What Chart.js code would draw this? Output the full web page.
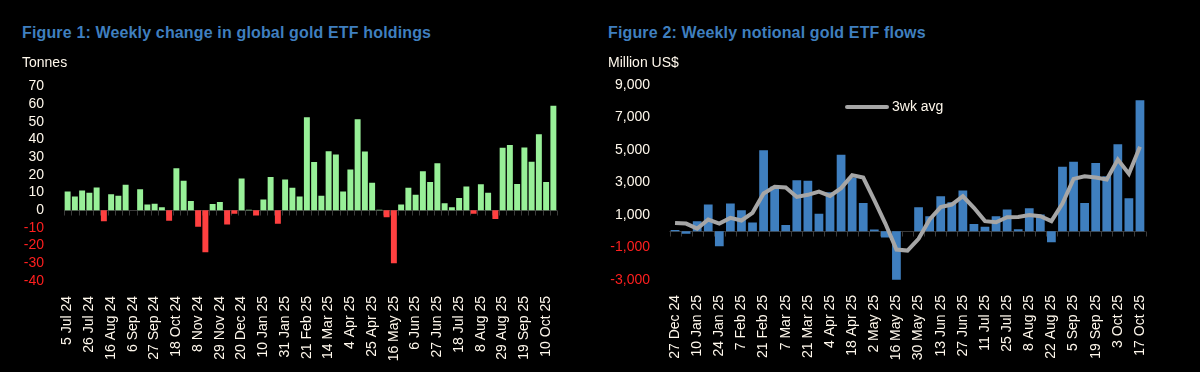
<!DOCTYPE html>
<html>
<head>
<meta charset="utf-8">
<script src="https://cdn.jsdelivr.net/npm/chart.js@4/dist/chart.umd.min.js"></script>
<style>
  body { margin: 0; background: #000; width: 1200px; height: 372px; overflow: hidden; position: relative; font-family: "Liberation Sans", Arial, sans-serif; }
  .title { position: absolute; color: #3f7fbf; font-weight: bold; font-size: 16px; line-height: 16px; letter-spacing: 0.15px; white-space: nowrap; }
  .unit { position: absolute; color: #fff8ec; font-size: 14px; line-height: 14px; white-space: nowrap; }
  canvas { position: absolute; }
  #legend2 { position: absolute; left: 845px; top: 99px; color: #fff8ec; font-size: 14px; line-height: 14px; white-space: nowrap; }
  #legend2 span.swatch { display: inline-block; width: 44px; height: 4px; border-radius: 2px; background: #a6a6a6; vertical-align: middle; margin-right: 3px; }
</style>
</head>
<body>
<canvas id="holdings" width="580" height="306" style="left:0;top:66px"></canvas>
<canvas id="flows" width="600" height="307" style="left:600px;top:65px"></canvas>
<div class="title" style="left:22px;top:25px">Figure 1: Weekly change in global gold ETF holdings</div>
<div class="unit" style="left:22px;top:55px">Tonnes</div>
<div class="title" style="left:608px;top:25px">Figure 2: Weekly notional gold ETF flows</div>
<div class="unit" style="left:608px;top:55px">Million US$</div>
<div id="legend2"><span class="swatch"></span>3wk avg</div>
<script>
"use strict";

const weeks = [
  '5 Jul 24','12 Jul 24','19 Jul 24','26 Jul 24','2 Aug 24','9 Aug 24','16 Aug 24','23 Aug 24','30 Aug 24',
  '6 Sep 24','13 Sep 24','20 Sep 24','27 Sep 24','4 Oct 24','11 Oct 24','18 Oct 24','25 Oct 24',
  '1 Nov 24','8 Nov 24','15 Nov 24','22 Nov 24','29 Nov 24','6 Dec 24','13 Dec 24','20 Dec 24','27 Dec 24',
  '3 Jan 25','10 Jan 25','17 Jan 25','24 Jan 25','31 Jan 25','7 Feb 25','14 Feb 25','21 Feb 25','28 Feb 25',
  '7 Mar 25','14 Mar 25','21 Mar 25','28 Mar 25','4 Apr 25','11 Apr 25','18 Apr 25','25 Apr 25',
  '2 May 25','9 May 25','16 May 25','23 May 25','30 May 25','6 Jun 25','13 Jun 25','20 Jun 25','27 Jun 25',
  '4 Jul 25','11 Jul 25','18 Jul 25','25 Jul 25','1 Aug 25','8 Aug 25','15 Aug 25','22 Aug 25','29 Aug 25',
  '5 Sep 25','12 Sep 25','19 Sep 25','26 Sep 25','3 Oct 25','10 Oct 25','17 Oct 25'
];

// Figure 1: weekly change, tonnes
const tonnes = [
  10.6, 7.8, 11.2, 9.9, 12.9, -6.2, 9, 8.2, 14.4, 0,
  11.8, 3.2, 3.7, 1.7, -6, 23.7, 16.6, 5.2, -9.3, -23.7,
  3.5, 4.7, -8, -2, 18, 0.3, -3, 6, 18.8, -7.6,
  17.4, 12.7, 7.7, 52.6, 27.2, 8.2, 33.4, 31.5, 10.6, 23,
  51.5, 33.2, 15.5, 0.3, -3.9, -29.9, 3.2, 12.7, 8.8, 22,
  15.9, 26.5, 3.9, 1.7, 6.9, 13.4, -2, 14.7, 9.9, -4.9,
  35.3, 36.9, 14.9, 35.4, 27.4, 42.9, 15.9, 59.1
];

// Figure 2: weekly notional flows, US$ mn, from 27 Dec 24
const flowWeeks = weeks.slice(weeks.indexOf('27 Dec 24'));
const flows = [
  80, -160, 615, 1640, -920, 1700, 1290, 530, 4985, 2750,
  390, 3140, 3100, 1070, 2400, 4700, 3300, 1740, 100, -390,
  -2980, 0, 1480, 920, 2150, 1780, 2500, 450, 270, 920,
  1330, 120, 1420, 1030, -680, 3960, 4270, 1740, 4200, 3380,
  5350, 2030, 8060
];
const avg3wk = [
  510, 470, 160, 720, 470, 820, 660, 1130, 2320, 2730,
  2690, 2110, 2240, 2440, 2170, 2650, 3450, 3300, 1910, 470,
  -1130, -1190, -470, 720, 1480, 1640, 2150, 1440, 620, 550,
  860, 880, 1000, 920, 620, 1700, 3220, 3380, 3300, 3180,
  4410, 3530, 5190
];

const tonnesTicks = {min: -40, max: 70, step: 10};
const flowTicks = {min: -3000, max: 9000, step: 2000};

const CREAM = '#fff8ec';
const RED = '#ff1f1f';
const FONT = {family: '"Liberation Sans", Arial, sans-serif', size: 14};

// zero line with small tick marks between the weeks
const zeroAxis = {
  id: 'zeroAxis',
  beforeDatasetsDraw(chart) {
    const {ctx, chartArea} = chart;
    const x = chart.scales.x, y = chart.scales.y;
    const y0 = Math.round(y.getPixelForValue(0)) + 0.5;
    const w = x.getPixelForValue(1) - x.getPixelForValue(0);
    ctx.save();
    ctx.strokeStyle = '#3a3a3a';
    ctx.lineWidth = 1;
    ctx.beginPath();
    ctx.moveTo(chartArea.left, y0);
    ctx.lineTo(chartArea.right, y0);
    for (let k = 0; k <= x.ticks.length; k++) {
      const px = Math.round(x.getPixelForValue(0) + (k - 0.5) * w) + 0.5;
      ctx.moveTo(px, y0);
      ctx.lineTo(px, y0 + 5);
    }
    ctx.stroke();
    ctx.restore();
  }
};

function yScale(t, width, pad) {
  return {
    min: t.min, max: t.max,
    border: {display: false},
    grid: {display: false},
    ticks: {
      stepSize: t.step,
      autoSkip: false,
      padding: pad,
      font: FONT,
      color: (c) => c.tick.value < 0 ? RED : CREAM,
      callback: (v) => v.toLocaleString('en-US'),
    },
    afterFit: (s) => { s.width = width; },
  };
}

function xScale(every, height) {
  return {
    border: {display: false},
    grid: {display: false},
    ticks: {
      autoSkip: false,
      minRotation: 90,
      maxRotation: 90,
      padding: 7,
      font: FONT,
      color: CREAM,
      callback: function (v, i) { return i % every === 0 ? this.getLabelForValue(v) : ''; },
    },
    afterFit: (s) => { s.height = height; },
  };
}

new Chart(document.getElementById('holdings'), {
  type: 'bar',
  data: {
    labels: weeks,
    datasets: [{
      label: 'Tonnes',
      data: tonnes,
      backgroundColor: tonnes.map(v => v < 0 ? '#ff4040' : '#98f098'),
      barPercentage: 0.82,
      categoryPercentage: 1,
    }],
  },
  options: {
    responsive: false,
    animation: false,
    layout: {padding: {top: 2, right: 23, left: 0, bottom: 0}},
    plugins: {legend: {display: false}, tooltip: {enabled: false}},
    scales: {
      x: xScale(3, 91),
      y: yScale(tonnesTicks, 64, 12),
    },
  },
  plugins: [zeroAxis],
});

new Chart(document.getElementById('flows'), {
  type: 'bar',
  data: {
    labels: flowWeeks,
    datasets: [
      {
        type: 'line',
        label: '3wk avg',
        data: avg3wk,
        borderColor: '#a6a6a6',
        borderWidth: 4,
        pointRadius: 0,
        tension: 0,
        order: 0,
      },
      {
        label: 'Flows',
        data: flows,
        backgroundColor: '#3f7fbf',
        barPercentage: 0.79,
        categoryPercentage: 1,
        order: 1,
      },
    ],
  },
  options: {
    responsive: false,
    animation: false,
    layout: {padding: {top: 2, right: 54.5, left: 0, bottom: 0}},
    plugins: {legend: {display: false}, tooltip: {enabled: false}},
    scales: {
      x: xScale(2, 92),
      y: yScale(flowTicks, 69.5, 11.5),
    },
  },
  plugins: [zeroAxis],
});
</script>
</body>
</html>
